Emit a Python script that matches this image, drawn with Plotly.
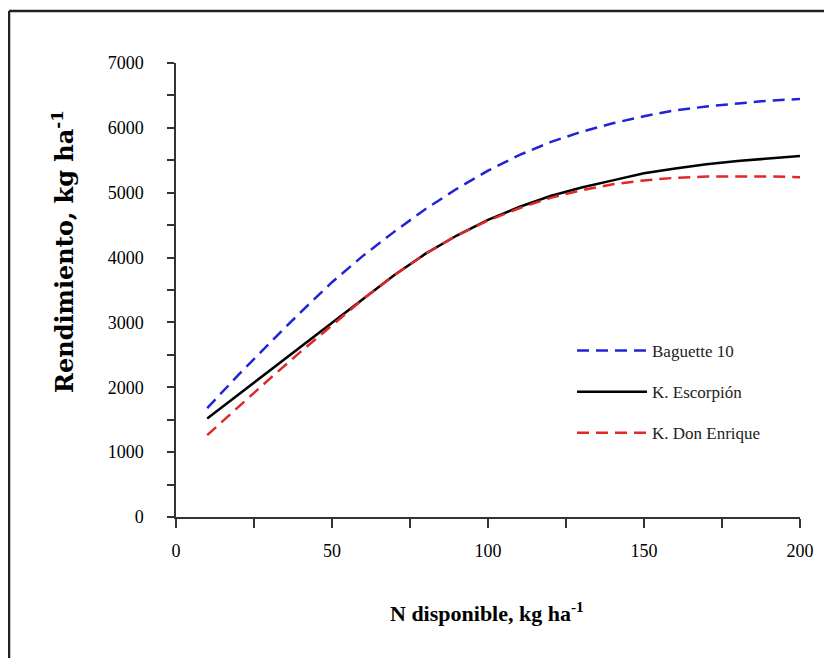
import plotly.graph_objects as go

# Data
n_disponible = [10, 20, 30, 40, 50, 60, 70, 80, 90, 100, 110, 120, 130, 140, 150, 160, 170, 180, 190, 200]
baguette_10 = [1680, 2190, 2680, 3160, 3620, 4030, 4400, 4750, 5060, 5340, 5580, 5780, 5940, 6070, 6180, 6270, 6330, 6380, 6420, 6445]
k_escorpion = [1520, 1890, 2260, 2630, 3000, 3370, 3730, 4060, 4340, 4580, 4780, 4950, 5080, 5190, 5300, 5375, 5440, 5490, 5530, 5565]
k_don_enrique = [1263, 1700, 2130, 2550, 2960, 3360, 3730, 4060, 4340, 4570, 4760, 4920, 5040, 5130, 5190, 5230, 5250, 5255, 5250, 5240]

series_names = ["Baguette 10", "K. Escorpión", "K. Don Enrique"]

x_tickvals = [0, 50, 100, 150, 200]
x_minorvals = [25, 75, 125, 175]
y_tickvals = [0, 1000, 2000, 3000, 4000, 5000, 6000, 7000]
y_minorvals = [500, 1500, 2500, 3500, 4500, 5500, 6500]

SERIF = "Liberation Serif"
SERIF2 = "DejaVu Serif"

fig = go.Figure()
fig.add_trace(go.Scatter(x=n_disponible, y=baguette_10, mode="lines", name=series_names[0],
                         line=dict(color="#2323d6", width=2.5, dash="12px,7px"),
                         legendgroup="a"))
fig.add_trace(go.Scatter(x=n_disponible, y=k_escorpion, mode="lines", name=series_names[1],
                         line=dict(color="#000000", width=2.5),
                         legendgroup="b"))
fig.add_trace(go.Scatter(x=n_disponible, y=k_don_enrique, mode="lines", name=series_names[2],
                         line=dict(color="#e02828", width=2.5, dash="12px,7px"),
                         legendgroup="c"))

OFF = 8
L, R, T, B = 176 - OFF, 32 + OFF, 63 - OFF, 141 + OFF
W, H = 832, 658
pw = W - L - R
ph = H - T - B

def px_x(p):
    return (p - OFF - L) / pw

def px_y(p):
    return 1 - (p - OFF - T) / ph

fig.update_layout(
    width=W, height=H,
    margin=dict(l=L, r=R, t=T, b=B, pad=0),
    paper_bgcolor="white", plot_bgcolor="white",
    font=dict(family=SERIF, color="black"),
    showlegend=True,
    legend=dict(x=px_x(572), y=px_y(333), xanchor="left", yanchor="top",
                font=dict(family=SERIF, size=17, color="#222"),
                bgcolor="rgba(0,0,0,0)", tracegroupgap=16,
                itemwidth=70),
    xaxis=dict(range=[0, 200], showgrid=False, zeroline=False,
               showline=True, linecolor="#333", linewidth=1.5,
               ticks="outside", ticklen=9, tickwidth=1.5, tickcolor="#333",
               tickvals=x_tickvals,
               minor=dict(tickvals=x_minorvals, ticks="outside", ticklen=9,
                          tickwidth=1.5, tickcolor="#333", showgrid=False),
               tickfont=dict(family=SERIF, size=18, color="black"),
               ticklabelstandoff=8),
    yaxis=dict(range=[0, 7000], showgrid=False, zeroline=False,
               showline=True, linecolor="#333", linewidth=1.5,
               ticks="outside", ticklen=7, tickwidth=1.5, tickcolor="#333",
               tickvals=y_tickvals,
               minor=dict(tickvals=y_minorvals, ticks="outside", ticklen=7,
                          tickwidth=1.5, tickcolor="#333", showgrid=False),
               tickfont=dict(family=SERIF, size=18, color="black"),
               ticklabelstandoff=20),
    annotations=[
        dict(text="<b>Rendimiento, kg ha<sup>-1</sup></b>", xref="paper", yref="paper",
             x=px_x(63), y=px_y(252), xanchor="center", yanchor="middle",
             textangle=-90, showarrow=False,
             font=dict(family=SERIF2, size=24, color="black")),
        dict(text="<b>N disponible, kg ha<sup>-1</sup></b>", xref="paper", yref="paper",
             x=px_x(487), y=px_y(612), xanchor="center", yanchor="middle",
             showarrow=False,
             font=dict(family=SERIF, size=22, color="black")),
    ],
    shapes=[
        dict(type="line", xref="paper", yref="paper",
             x0=px_x(9), x1=px_x(850), y0=px_y(11), y1=px_y(11),
             line=dict(color="#222", width=2.5)),
        dict(type="line", xref="paper", yref="paper",
             x0=px_x(9), x1=px_x(9), y0=px_y(11), y1=px_y(680),
             line=dict(color="#222", width=2.5)),
    ],
)

fig.write_html("out.html")
